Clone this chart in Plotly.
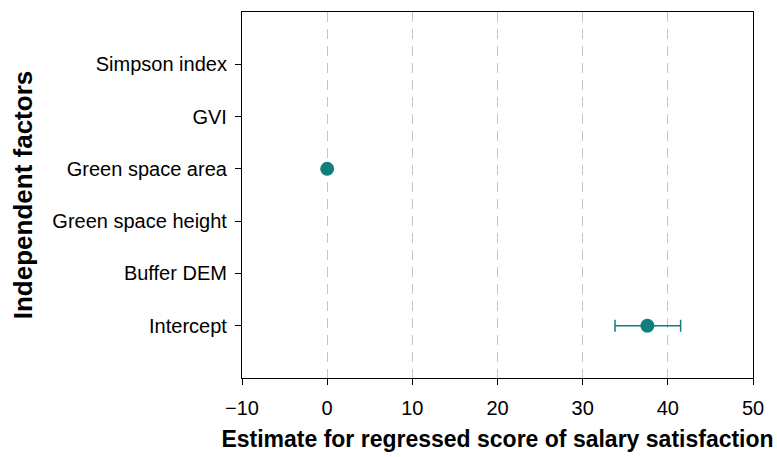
import plotly.graph_objects as go

# Regression coefficients with 95% confidence intervals
factors = ["Intercept", "Buffer DEM", "Green space height", "Green space area", "GVI", "Simpson index"]
estimates = [37.6, None, None, 0.0, None, None]
ci_low = [33.8, None, None, 0.0, None, None]
ci_high = [41.5, None, None, 0.0, None, None]

err_plus = [None if e is None else h - e for e, h in zip(estimates, ci_high)]
err_minus = [None if e is None else e - l for e, l in zip(estimates, ci_low)]

teal = "#0F7E7D"
font_family = "Liberation Sans, Arial, sans-serif"

fig = go.Figure()
fig.add_trace(go.Scatter(
    x=estimates,
    y=factors,
    mode="markers",
    marker=dict(color=teal, size=14),
    error_x=dict(type="data", symmetric=False, array=err_plus, arrayminus=err_minus,
                 color=teal, thickness=1.5, width=6),
    showlegend=False,
))

fig.update_layout(
    width=777, height=457,
    margin=dict(l=242, r=24, t=12, b=79),
    plot_bgcolor="white", paper_bgcolor="white",
    font=dict(family=font_family, color="black", size=20),
    xaxis=dict(
        range=[-10, 50], tickvals=[-10, 0, 10, 20, 30, 40, 50],
        ticktext=["\u221210", "0", "10", "20", "30", "40", "50"],
        showline=True, linecolor="black", linewidth=1.2, mirror=True,
        ticks="outside", ticklen=6, tickcolor="black", ticklabelstandoff=6,
        showgrid=True, gridcolor="#c4c4c4", gridwidth=1.2, griddash="10px,7px",
        zeroline=False, automargin=False,
        title=dict(text="<b>Estimate for regressed score of salary satisfaction</b>",
                   font=dict(size=23), standoff=12),
    ),
    yaxis=dict(
        type="category", categoryorder="array", categoryarray=factors,
        range=[-1, 6],
        showline=True, linecolor="black", linewidth=1.2, mirror=True,
        ticks="outside", ticklen=6, tickcolor="black", ticklabelstandoff=4,
        showgrid=False, zeroline=False, automargin=False,
        title=dict(text="<b>Independent factors</b>", font=dict(size=26), standoff=12),
    ),
)

fig.write_html("out.html")
